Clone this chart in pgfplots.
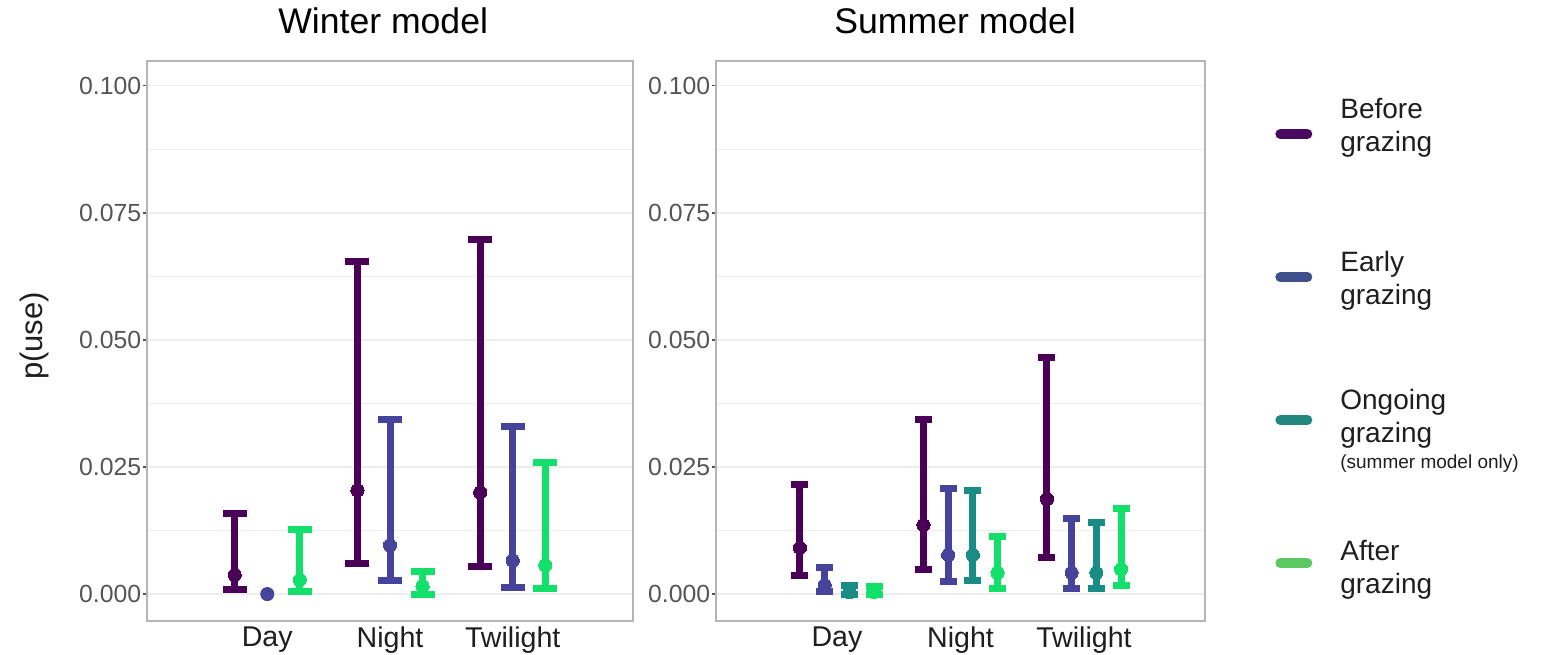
\documentclass[border=0pt]{standalone}
\usepackage{pgfplots}
\pgfplotsset{compat=1.18}
\usepackage{pgfplotstable}
\usepackage{fontspec}
\setmainfont{Liberation Sans}

\definecolor{cB}{HTML}{4B0058}
\definecolor{cE}{HTML}{45449A}
\definecolor{cO}{HTML}{188C85}
\definecolor{cA}{HTML}{12E06B}
\definecolor{lB}{HTML}{470A5E}
\definecolor{lE}{HTML}{3E4F8C}
\definecolor{lO}{HTML}{22877F}
\definecolor{lA}{HTML}{5CC862}
\definecolor{gridc}{HTML}{EDEDED}
\definecolor{borderc}{HTML}{B5B5B5}
\definecolor{tickc}{HTML}{555555}
\definecolor{xlabc}{HTML}{1E1E1E}

% winter model: cat y lo hi
\pgfplotstableread{
cat y lo hi
1 0.0038 0.0009 0.0159
2 0.0204 0.0060 0.0654
3 0.0200 0.0054 0.0697
}\wB
\pgfplotstableread{
cat y lo hi
2 0.0096 0.0026 0.0343
3 0.0066 0.0013 0.0330
}\wE
\pgfplotstableread{
cat y
1 0.0000
}\wEday
\pgfplotstableread{
cat y lo hi
1 0.0028 0.0005 0.0127
2 0.0015 0.0000 0.0045
3 0.0057 0.0011 0.0258
}\wA
% summer model
\pgfplotstableread{
cat y lo hi
1 0.0091 0.0036 0.0215
2 0.0136 0.0049 0.0343
3 0.0187 0.0072 0.0466
}\sB
\pgfplotstableread{
cat y lo hi
1 0.0018 0.0005 0.0052
2 0.0077 0.0024 0.0208
3 0.0042 0.0010 0.0149
}\sE
\pgfplotstableread{
cat y lo hi
1 0.0004 0.0000 0.0017
2 0.0077 0.0026 0.0204
3 0.0042 0.0010 0.0140
}\sO
\pgfplotstableread{
cat y lo hi
1 0.0004 0.0000 0.0015
2 0.0042 0.0011 0.0113
3 0.0049 0.0017 0.0168
}\sA

\newcommand\lgd[2]{\raisebox{#1}[18pt][18pt]{\begin{tabular}{@{}l@{}}#2\end{tabular}}}

\pgfplotsset{
 panel/.style={
  scale only axis, height=280pt, anchor=south west,
  xmin=0.02, xmax=3.98, ymin=-0.0053, ymax=0.1049,
  xtick={1,2,3}, xticklabels={Day,Night,Twilight},
  ytick={0,0.025,0.05,0.075,0.1},
  minor ytick={0.0125,0.0375,0.0625,0.0875},
  ytick pos=left,
  ymajorgrids, yminorgrids,
  major grid style={draw=gridc, line width=0.6pt},
  minor grid style={draw=gridc, line width=0.35pt},
  axis line style={draw=borderc, line width=0.75pt},
  tick align=outside,
  major tick length=2.2pt,
  minor tick length=0pt,
  ytick style={draw=tickc, line width=0.6pt},
  xtick style={draw=none},
  scaled y ticks=false,
  yticklabel style={/pgf/number format/.cd, fixed, fixed zerofill, precision=3, assume math mode=true, /tikz/.cd, font=\fontsize{12.4}{14}\selectfont, text=tickc, inner sep=0pt, xshift=-0.5pt},
  xticklabel style={font=\fontsize{14.3}{16}\selectfont, text=xlabc, inner sep=0pt, yshift=-0.5pt},
  title style={font=\fontsize{17.8}{20}\selectfont, anchor=center, yshift=0pt},
 },
 eb/.style 2 args={only marks, mark=*, mark size=3.3pt, color=#1,
   mark options={fill=#1, draw=#1, line width=0pt},
   error bars/.cd, y dir=both, y explicit, error mark=-,
   error bar style={draw=#1, line width=3.5pt},
   error mark options={rotate=90, draw=#1, line width=3.5pt, mark size=#2},
   /pgfplots/.cd},
}

\begin{document}
\begin{tikzpicture}
\useasboundingbox (0pt,0pt) rectangle (778pt,327pt);

% Winter model
\begin{axis}[panel, width=243pt, at={(73.5pt,16.5pt)},
  title={Winter model}, title style={at={(axis description cs:0.486,1.050)}},
  ylabel={p(use)},
  ylabel style={at={(axis description cs:-0.2305,0.509)}, anchor=center, font=\fontsize{15.5}{17}\selectfont, text=xlabc}]
\addplot[eb={cB}{6pt}] table[x expr=\thisrow{cat}-0.265, y=y, y error plus expr=\thisrow{hi}-\thisrow{y}, y error minus expr=\thisrow{y}-\thisrow{lo}] {\wB};
\addplot[eb={cE}{6pt}] table[x expr=\thisrow{cat}, y=y, y error plus expr=\thisrow{hi}-\thisrow{y}, y error minus expr=\thisrow{y}-\thisrow{lo}] {\wE};
\addplot[only marks, mark=*, mark size=3.3pt, color=cE] table[x=cat, y=y] {\wEday};
\addplot[eb={cA}{6pt}] table[x expr=\thisrow{cat}+0.265, y=y, y error plus expr=\thisrow{hi}-\thisrow{y}, y error minus expr=\thisrow{y}-\thisrow{lo}] {\wA};
\end{axis}

% Summer model
\begin{axis}[panel, width=244.5pt, at={(358pt,16.5pt)},
  title={Summer model}, title style={at={(axis description cs:0.489,1.050)}},
  legend style={at={(1.143,0.905)}, anchor=north west, draw=none, fill=none,
    inner sep=0pt, row sep={71.5pt,between origins}, column sep=14pt,
    font=\fontsize{14}{16.5}\selectfont, text=xlabc, nodes={inner sep=0pt}},
  legend cell align=left]
\addlegendimage{legend image code/.code={\draw[lB, line width=5pt, line cap=round] (2.5pt,0pt) -- (16pt,0pt);}}
\addlegendentry{\lgd{7.5pt}{Before\\grazing}}
\addlegendimage{legend image code/.code={\draw[lE, line width=5pt, line cap=round] (2.5pt,0pt) -- (16pt,0pt);}}
\addlegendentry{\lgd{2.5pt}{Early\\grazing}}
\addlegendimage{legend image code/.code={\draw[lO, line width=5pt, line cap=round] (2.5pt,0pt) -- (16pt,0pt);}}
\addlegendentry{\lgd{5pt}{Ongoing\\\rlap{\raisebox{-13pt}[0pt][0pt]{\fontsize{9.5}{11}\selectfont (summer model only)}}grazing}}
\addlegendimage{legend image code/.code={\draw[lA, line width=5pt, line cap=round] (2.5pt,0pt) -- (16pt,0pt);}}
\addlegendentry{\lgd{1pt}{After\\grazing}}
\addplot[forget plot, eb={cB}{4.25pt}] table[x expr=\thisrow{cat}-0.3, y=y, y error plus expr=\thisrow{hi}-\thisrow{y}, y error minus expr=\thisrow{y}-\thisrow{lo}] {\sB};
\addplot[forget plot, eb={cE}{4.25pt}] table[x expr=\thisrow{cat}-0.1, y=y, y error plus expr=\thisrow{hi}-\thisrow{y}, y error minus expr=\thisrow{y}-\thisrow{lo}] {\sE};
\addplot[forget plot, eb={cO}{4.25pt}] table[x expr=\thisrow{cat}+0.1, y=y, y error plus expr=\thisrow{hi}-\thisrow{y}, y error minus expr=\thisrow{y}-\thisrow{lo}] {\sO};
\addplot[forget plot, eb={cA}{4.25pt}] table[x expr=\thisrow{cat}+0.3, y=y, y error plus expr=\thisrow{hi}-\thisrow{y}, y error minus expr=\thisrow{y}-\thisrow{lo}] {\sA};
\end{axis}
\end{tikzpicture}
\end{document}
